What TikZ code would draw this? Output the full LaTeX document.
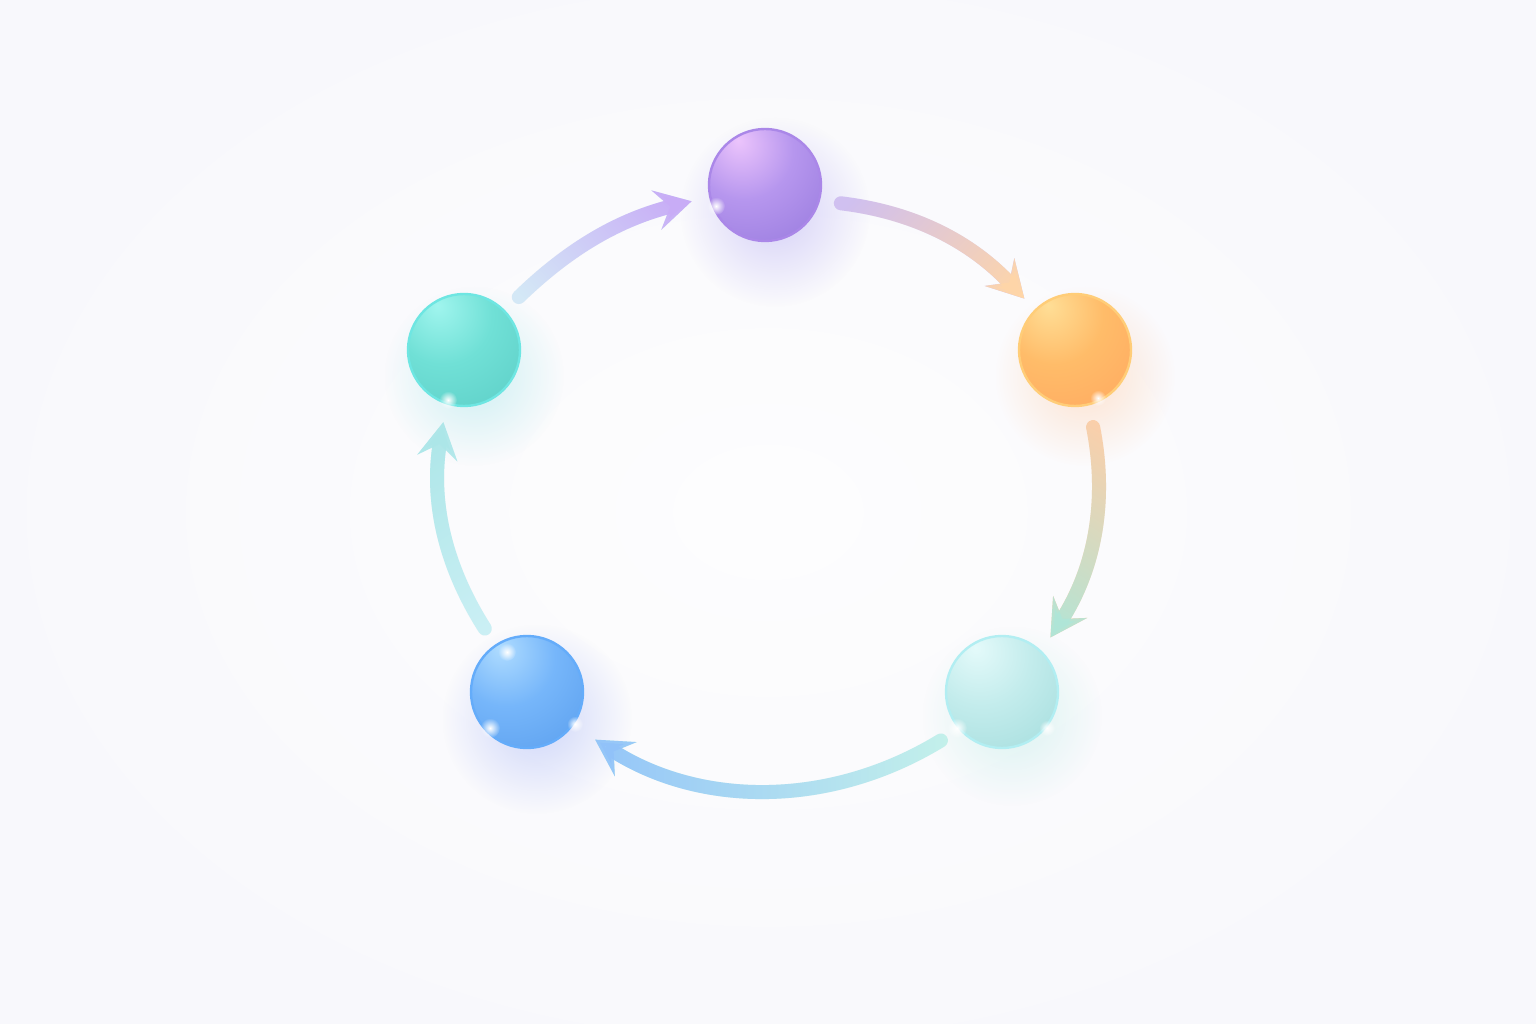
\documentclass[tikz,border=0pt]{standalone}
\usetikzlibrary{arrows.meta,fadings,shadings}
% colours
\definecolor{bgc}{RGB}{248,248,252}
\definecolor{pHi}{RGB}{236,196,252}\definecolor{pMd}{RGB}{182,150,238}\definecolor{pDk}{RGB}{138,110,214}\definecolor{pRim}{RGB}{170,135,232}\definecolor{pGlow}{RGB}{175,165,242}
\definecolor{oHi}{RGB}{255,222,150}\definecolor{oMd}{RGB}{255,188,105}\definecolor{oDk}{RGB}{255,160,92}\definecolor{oRim}{RGB}{255,205,120}\definecolor{oGlow}{RGB}{255,200,160}
\definecolor{lHi}{RGB}{228,250,250}\definecolor{lMd}{RGB}{195,236,236}\definecolor{lDk}{RGB}{150,214,214}\definecolor{lRim}{RGB}{178,238,242}\definecolor{lGlow}{RGB}{185,235,228}
\definecolor{bHi}{RGB}{175,220,255}\definecolor{bMd}{RGB}{118,182,250}\definecolor{bDk}{RGB}{78,148,232}\definecolor{bRim}{RGB}{100,172,250}\definecolor{bGlow}{RGB}{160,176,245}
\definecolor{tHi}{RGB}{160,245,238}\definecolor{tMd}{RGB}{112,224,214}\definecolor{tDk}{RGB}{84,198,192}\definecolor{tRim}{RGB}{110,230,226}\definecolor{tGlow}{RGB}{160,228,232}
% arrow colours
\definecolor{a1s}{RGB}{212,232,246}\definecolor{a1e}{RGB}{200,172,246}
\definecolor{a2s}{RGB}{208,192,240}\definecolor{a2e}{RGB}{255,214,168}
\definecolor{a3s}{RGB}{255,206,168}\definecolor{a3e}{RGB}{175,230,216}
\definecolor{a4s}{RGB}{198,243,234}\definecolor{a4e}{RGB}{145,194,250}
\definecolor{a5s}{RGB}{204,240,245}\definecolor{a5e}{RGB}{172,230,232}
\pgfdeclareradialshading{shP}{\pgfpoint{-12bp}{20bp}}{color(0bp)=(pHi); color(22bp)=(pMd); color(60bp)=(pDk); color(100bp)=(pDk)}
\pgfdeclareradialshading{shO}{\pgfpoint{-12bp}{20bp}}{color(0bp)=(oHi); color(22bp)=(oMd); color(60bp)=(oDk); color(100bp)=(oDk)}
\pgfdeclareradialshading{shL}{\pgfpoint{-12bp}{20bp}}{color(0bp)=(lHi); color(22bp)=(lMd); color(60bp)=(lDk); color(100bp)=(lDk)}
\pgfdeclareradialshading{shB}{\pgfpoint{-12bp}{20bp}}{color(0bp)=(bHi); color(22bp)=(bMd); color(60bp)=(bDk); color(100bp)=(bDk)}
\pgfdeclareradialshading{shT}{\pgfpoint{-12bp}{20bp}}{color(0bp)=(tHi); color(22bp)=(tMd); color(60bp)=(tDk); color(100bp)=(tDk)}
\tikzfading[name=glowfade, inner color=transparent!50, outer color=transparent!100]
\tikzfading[name=bgfade, inner color=transparent!20, outer color=transparent!100]
\tikzfading[name=sparkfade, inner color=transparent!0, outer color=transparent!100]
\tikzfading[name=alongfade, left color=transparent!100, right color=transparent!0]
\tikzset{
  sphere/.style={circle, minimum size=56pt, inner sep=0pt, line width=1.2pt},
  flow/.style={line width=7pt, line cap=round, -{Stealth[length=18pt,width=20pt,inset=7pt]}},
  glow/.style={path fading=glowfade},
  spark/.style={white, path fading=sparkfade}
}
\newcommand\gradarrow[8]{%
  \draw[flow, #1, shorten <=#7, shorten >=#8] (#4) to[bend left=#6] (#5);
  \draw[flow, #2, path fading=alongfade, fading angle=#3, shorten <=#7, shorten >=#8] (#4) to[bend left=#6] (#5);
}
\begin{document}
\begin{tikzpicture}[x=0.5pt,y=0.5pt]
\useasboundingbox (0,0) rectangle (1536,1024);
\fill[bgc] (0,0) rectangle (1536,1024);
\fill[white, path fading=bgfade] (768,512) ellipse (900 and 640);
% glows
\fill[pGlow, glow] (775,812) circle (95);
\fill[oGlow, glow] (1085,648) circle (90);
\fill[lGlow, glow] (1012,308) circle (90);
\fill[bGlow, glow] (537,305) circle (95);
\fill[tGlow, glow] (474,648) circle (90);
% spheres
\node[sphere, shading=shP, draw=pRim] (purple) at (765,839) {};
\node[sphere, shading=shO, draw=oRim] (orange) at (1075,674) {};
\node[sphere, shading=shL, draw=lRim] (lteal) at (1002,332) {};
\node[sphere, shading=shB, draw=bRim] (blue) at (527,332) {};
\node[sphere, shading=shT, draw=tRim] (teal) at (464,674) {};
% sparkles
\fill[spark] (716,818) circle (9);
\fill[spark] (448,624) circle (9);
\fill[spark] (1098,626) circle (8);
\fill[spark] (957,296) circle (10);
\fill[spark] (1047,296) circle (8);
\fill[spark] (507,372) circle (9);
\fill[spark] (490,296) circle (10);
\fill[spark] (575,300) circle (8);
% connectors
\gradarrow{a1s}{a1e}{29.5}{teal.44}{purple.192}{15}{9.5pt}{9pt}
\gradarrow{a2s}{a2e}{-26.6}{purple.-16}{orange.135}{20}{10.5pt}{7.5pt}
\gradarrow{a3s}{a3e}{259.3}{orange.-76}{lteal.46}{22}{11pt}{8pt}
\gradarrow{a4s}{a4e}{180}{lteal.221}{blue.-36}{32}{10.5pt}{13pt}
\gradarrow{a5s}{a5e}{102.2}{blue.124}{teal.252}{21}{9.5pt}{9pt}
\end{tikzpicture}
\end{document}
